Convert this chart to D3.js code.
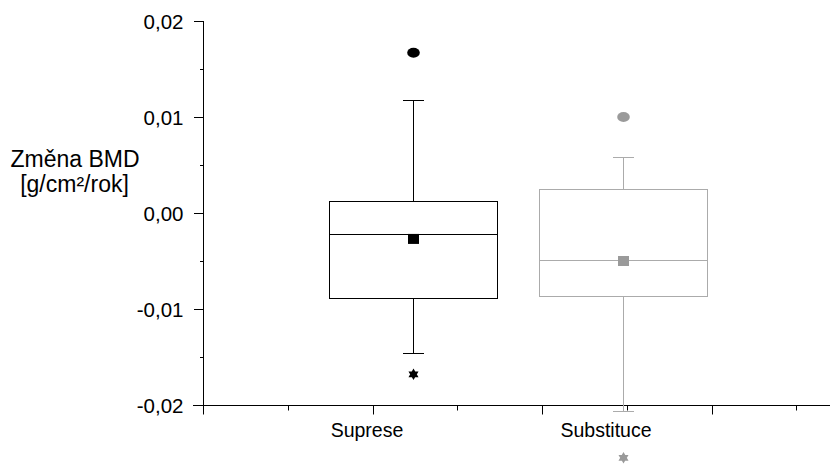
<!DOCTYPE html>
<html><head><meta charset="utf-8">
<script src="https://cdn.jsdelivr.net/npm/d3@7"></script>
<style>body{margin:0;background:#fff}svg{display:block}text{font-family:"Liberation Sans",Arial,sans-serif;fill:#000}</style>
</head><body><svg id="c" width="830" height="464"></svg>
<script>
const categories = ["Suprese", "Substituce"];
const upperOutlier = [0.0167, 0.0100];
const upperWhisker = [0.0118, 0.0058];
const q3 = [0.0013, 0.0025];
const median = [-0.0022, -0.0049];
const mean = [-0.0027, -0.0050];
const q1 = [-0.0088, -0.0086];
const lowerWhisker = [-0.0146, -0.0206];
const lowerOutlier = [-0.0168, -0.0255];
const yTickLabels = ["-0,02", "-0,01", "0,00", "0,01", "0,02"];
const yTicks = [-0.02, -0.01, 0, 0.01, 0.02];
const yMinorTicks = [-0.015, -0.005, 0.005, 0.015];
const xMajorTicks = [0, 1, 2, 3];
const xMinorTicks = [0.5, 1.5, 2.5, 3.5];

const strokeCol = ["#000000", "#ababab"];
const markCol = ["#000000", "#9a9a9a"];
const labelShift = [-46, -17];

const svg = d3.select("#c");
const y = d3.scaleLinear().domain([-0.02, 0.02]).range([405, 21]);
const xAxisScale = d3.scaleLinear().domain([0, 1]).range([203, 372.5]);
const xb = d3.scaleBand().domain(categories).range([329, 707]).paddingInner(0.2).paddingOuter(0);

// y axis
const gy = svg.append("g").attr("transform", "translate(203.5,0)");
gy.call(d3.axisLeft(y).tickValues(yTicks).tickSize(10).tickPadding(10)
  .tickFormat((d, i) => yTickLabels[i]));
gy.append("g").call(d3.axisLeft(y).tickValues(yMinorTicks).tickSize(4).tickFormat(""));
gy.selectAll(".domain").attr("d", `M0,${y(0.02)}V${y(-0.02)}`);
gy.selectAll("text").style("font-size", "20.5px").attr("dy", "0.37em");
gy.selectAll("line,path").attr("stroke", "#000").attr("shape-rendering", "crispEdges");

// x axis
const gx = svg.append("g").attr("transform", "translate(0,405.5)");
gx.append("line").attr("x1", 193).attr("x2", 830).attr("stroke", "#000").attr("shape-rendering", "crispEdges");
gx.selectAll(".maj").data(xMajorTicks).join("line").attr("class", "maj")
  .attr("x1", d => Math.round(xAxisScale(d)) + 0.5).attr("x2", d => Math.round(xAxisScale(d)) + 0.5)
  .attr("y1", 0).attr("y2", 9).attr("stroke", "#000");
gx.selectAll(".min").data(xMinorTicks).join("line").attr("class", "min")
  .attr("x1", d => Math.round(xAxisScale(d)) + 0.5).attr("x2", d => Math.round(xAxisScale(d)) + 0.5)
  .attr("y1", 0).attr("y2", 5).attr("stroke", "#000");
gx.selectAll(".lab").data(categories).join("text").attr("class", "lab")
  .attr("x", (d, i) => xb(d) + xb.bandwidth() / 2 + labelShift[i])
  .attr("y", 31).attr("text-anchor", "middle").style("font-size", "19.5px").text(d => d);

// y label
const yl = svg.append("text").attr("text-anchor", "middle").style("font-size", "23px");
yl.append("tspan").attr("x", 75).attr("y", 167).text("Změna BMD");
yl.append("tspan").attr("x", 74.5).attr("y", 192).text("[g/cm²/rok]");

// boxes
const px = v => Math.round(v) + 0.5;
categories.forEach((c, i) => {
  const g = svg.append("g").attr("shape-rendering", "crispEdges");
  const x0 = xb(c), w = xb.bandwidth(), cx = px(x0 + w / 2);
  const col = strokeCol[i];
  g.append("line").attr("x1", cx).attr("x2", cx).attr("y1", px(y(upperWhisker[i]))).attr("y2", px(y(q3[i]))).attr("stroke", col);
  g.append("line").attr("x1", cx).attr("x2", cx).attr("y1", px(y(q1[i]))).attr("y2", px(y(lowerWhisker[i]))).attr("stroke", col);
  [upperWhisker[i], lowerWhisker[i]].forEach(v => {
    g.append("line").attr("x1", cx - 10.5).attr("x2", cx + 10.5).attr("y1", px(y(v))).attr("y2", px(y(v))).attr("stroke", col);
  });
  g.append("rect").attr("x", px(x0)).attr("y", px(y(q3[i]))).attr("width", Math.round(w))
    .attr("height", Math.round(y(q1[i]) - y(q3[i]))).attr("fill", "none").attr("stroke", col);
  g.append("line").attr("x1", px(x0)).attr("x2", px(x0 + w)).attr("y1", px(y(median[i]))).attr("y2", px(y(median[i]))).attr("stroke", col);
  // mean square
  svg.append("rect").attr("x", cx - 5.5).attr("y", y(mean[i]) - 5).attr("width", 11).attr("height", 10).attr("fill", markCol[i]);
  // upper outlier (circle)
  svg.append("ellipse").attr("cx", cx).attr("cy", y(upperOutlier[i])).attr("rx", 6.3).attr("ry", 5).attr("fill", markCol[i]);
  // lower outlier (six-point star)
  const r = 5.8, sy = y(lowerOutlier[i]);
  const tri = a => d3.range(3).map(k => {
    const ang = a + k * 2 * Math.PI / 3;
    return [cx + r * Math.sin(ang), sy - r * Math.cos(ang)];
  });
  svg.append("path").attr("d", d3.line()(tri(0)) + "Z" + d3.line()(tri(Math.PI)) + "Z").attr("fill", markCol[i]);
});
</script></body></html>
